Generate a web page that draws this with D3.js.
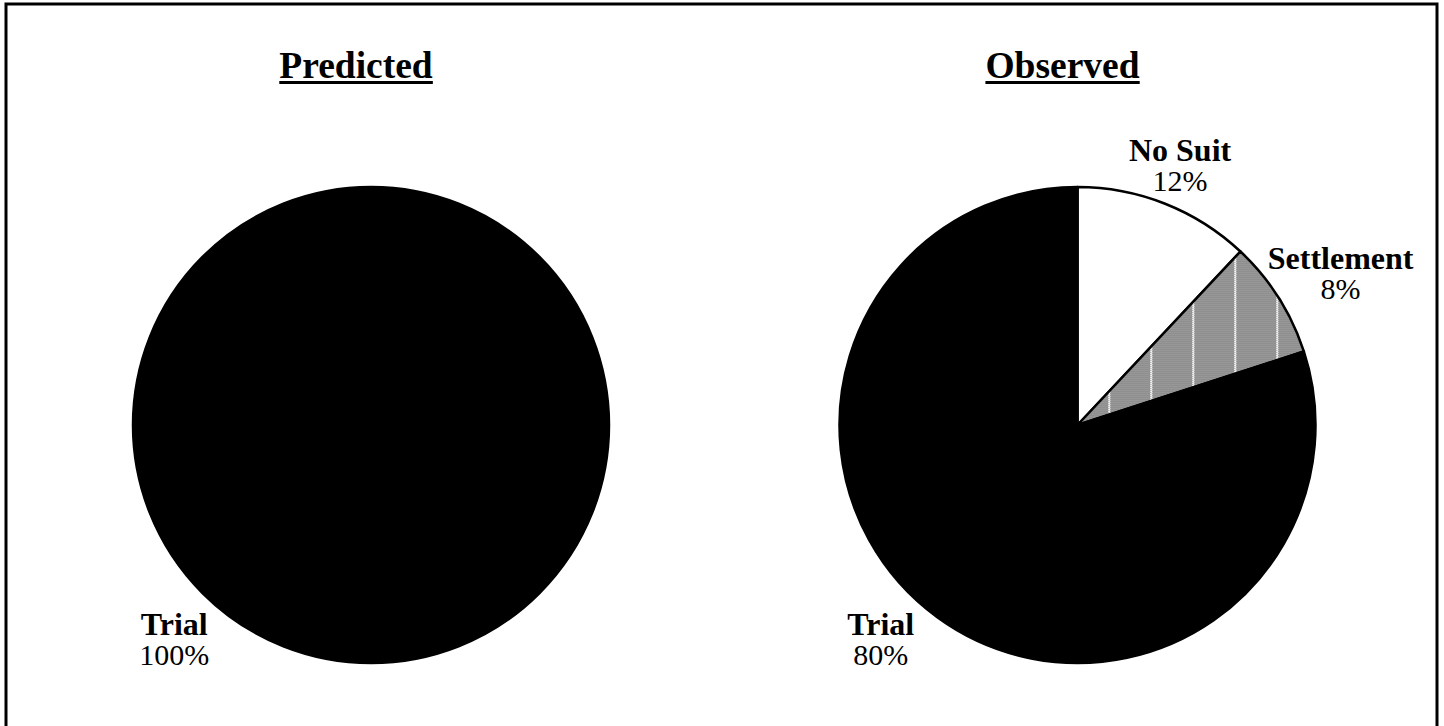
<!DOCTYPE html>
<html>
<head>
<meta charset="utf-8">
<script src="https://cdn.jsdelivr.net/npm/d3@7"></script>
<style>
  html, body { margin: 0; padding: 0; background: white; overflow: hidden; }
</style>
</head>
<body>
<div id="chart"></div>
<script>
const w = 1444;
const h = 726;

// data
const predictedCategories = ['Trial'];
const predictedValues = [100];
const observedCategories = ['No Suit', 'Settlement', 'Trial'];
const observedValues = [12, 8, 80];
const titles = ['Predicted', 'Observed'];

const fills = {'No Suit': 'white', 'Settlement': 'url(#hatch)', 'Trial': 'black'};

const svg = d3.select('#chart')
              .append('svg')
              .attr('width', w)
              .attr('height', h)
              .style('background-color', 'white')
              .style('font-family', '"Liberation Serif", "Times New Roman", serif');

// settlement fill: dithered grey with thin white verticals
const defs = svg.append('defs');
const dots = defs.append('pattern')
   .attr('id', 'dots')
   .attr('patternUnits', 'userSpaceOnUse')
   .attr('width', 2).attr('height', 2);
dots.append('rect').attr('width', 2).attr('height', 2).attr('fill', '#c8c8c8');
dots.append('rect').attr('width', 1).attr('height', 1).attr('fill', '#555');
dots.append('rect').attr('x', 1).attr('y', 1).attr('width', 1).attr('height', 1).attr('fill', '#666');

const hatch = defs.append('pattern')
   .attr('id', 'hatch')
   .attr('patternUnits', 'userSpaceOnUse')
   .attr('x', 31)
   .attr('width', 42).attr('height', 42);
hatch.append('rect').attr('width', 42).attr('height', 42).attr('fill', 'url(#dots)');
hatch.append('rect').attr('x', 0).attr('width', 1.5).attr('height', 42).attr('fill', 'white');

// outer frame
svg.append('rect')
   .attr('x', 6)
   .attr('y', 4)
   .attr('width', 1431)
   .attr('height', 740)
   .attr('fill', 'none')
   .attr('stroke', 'black')
   .attr('stroke-width', 3);

const radius = 238;
const centers = [[371, 425], [1077.5, 425]];

const pie = d3.pie().sort(null).value(d => d.value);
const arc = d3.arc().innerRadius(0).outerRadius(radius);

function drawPie(cx, cy, categories, values, title, labelSpots) {
   const data = categories.map((c, i) => ({label: c, value: values[i]}));
   const g = svg.append('g').attr('transform', `translate(${cx}, ${cy})`);

   g.selectAll('path')
    .data(pie(data))
    .enter()
    .append('path')
    .attr('d', arc)
    .attr('fill', d => fills[d.data.label])
    .attr('stroke', 'black')
    .attr('stroke-width', 2.5)
    .attr('stroke-linejoin', 'round');

   // title, bold + underlined
   const t = svg.append('text')
      .attr('x', cx - 15)
      .attr('y', 78)
      .attr('text-anchor', 'middle')
      .attr('font-size', '37.5px')
      .attr('font-weight', 'bold')
      .text(title);
   const bb = t.node().getBBox();
   svg.append('rect')
      .attr('x', bb.x)
      .attr('y', 81)
      .attr('width', bb.width)
      .attr('height', 3)
      .attr('fill', 'black');

   // labels outside the slices
   const labels = g.selectAll('.lbl')
      .data(pie(data))
      .enter()
      .append('g')
      .attr('class', 'lbl')
      .attr('transform', (d, i) => {
         const s = labelSpots[i];
         const a = s.angle * Math.PI / 180;
         return `translate(${s.dist * Math.sin(a)}, ${-s.dist * Math.cos(a)})`;
      });
   labels.append('text')
      .attr('y', -16)
      .attr('text-anchor', 'middle')
      .attr('font-size', '32px')
      .attr('font-weight', 'bold')
      .text(d => d.data.label);
   labels.append('text')
      .attr('y', 14)
      .attr('text-anchor', 'middle')
      .attr('font-size', '30px')
      .text(d => d3.format('.0f')(d.data.value) + '%');
}

drawPie(centers[0][0], centers[0][1], predictedCategories, predictedValues, titles[0],
        [{angle: 221, dist: 300}]);
drawPie(centers[1][0], centers[1][1], observedCategories, observedValues, titles[1],
        [{angle: 22.5, dist: 268}, {angle: 62, dist: 298}, {angle: 221, dist: 300}]);
</script>
</body>
</html>
